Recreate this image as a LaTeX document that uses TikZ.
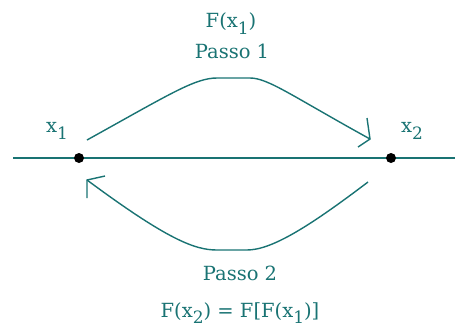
\documentclass[tikz,border=0pt]{standalone}
\usepackage{fontspec}
\setmainfont{DejaVu Serif}
\definecolor{ink}{RGB}{25,115,115}
\newcommand{\sbx}[1]{\raisebox{-0.35em}{\fontsize{17}{17}\selectfont #1}}
\begin{document}
\begin{tikzpicture}[x=1pt,y=-1pt,
  lbl/.style={inner sep=0pt,text=ink,font=\fontsize{19.5}{22}\selectfont},
  curve/.style={draw=ink,line width=1.4pt},
  dot/.style={circle,fill=black,inner sep=0pt,minimum size=10pt}]
\useasboundingbox (0,0) rectangle (455,330);
% axis
\coordinate (axL) at (13,158);
\coordinate (axR) at (455,158);
\draw[curve] (axL) -- (axR);
\node[dot] (p1) at (79,158) {};
\node[dot] (p2) at (391,158) {};
% labels
\node[lbl] (lx1) at (57,131) {x\sbx{1}};
\node[lbl] (lx2) at (412,131) {x\sbx{2}};
\node[lbl] (fx1) at (231,24) {F(x\sbx{1})};
\node[lbl] (ps1) at (232,51) {Passo 1};
\node[lbl] (ps2) at (240,273) {Passo 2};
\node[lbl] (fx2) at (240,313) {F(x\sbx{2}) = F[F(x\sbx{1})]};
% upper curve
\coordinate (u0) at (87,140);
\coordinate (u1) at (370,139);
\draw[curve] (u0) .. controls (170,94) and (195,78) .. (217,78) -- (250,78)
  .. controls (268,78) and (292,96) .. (u1);
\coordinate (ua1) at (367,118);
\coordinate (ua2) at (358,147);
\draw[curve] (ua1) -- (u1) -- (ua2);
% lower curve
\coordinate (l0) at (368,182);
\coordinate (l1) at (87,180);
\draw[curve] (l0) .. controls (310,226) and (272,250) .. (247,250) -- (217,250)
  .. controls (195,250) and (168,240) .. (l1);
\coordinate (la1) at (105,176);
\coordinate (la2) at (87,198);
\draw[curve] (la1) -- (l1) -- (la2);
\end{tikzpicture}
\end{document}
